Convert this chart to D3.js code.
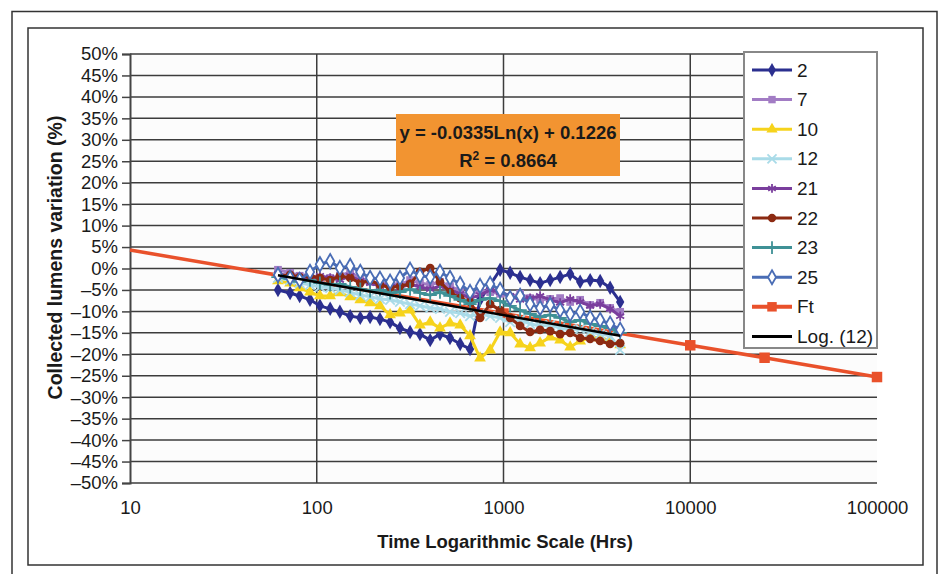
<!DOCTYPE html>
<html>
<head>
<meta charset="utf-8">
<script src="https://cdn.jsdelivr.net/npm/d3@7"></script>
<style>
  body { margin: 0; background: #fff; }
  text { font-family: "Liberation Sans", Arial, sans-serif; fill: #1a1a1a; }
</style>
</head>
<body>
<svg id="chart"></svg>
<script>
// measurement times (hours), shared by all samples
const hours = [62, 72, 81, 92, 104, 118, 133, 151, 171, 193, 218, 247, 279, 316, 357, 405, 457, 517, 586, 662,
  749, 848, 959, 1085, 1227, 1388, 1570, 1778, 2010, 2275, 2573, 2911, 3292, 3724, 4214];

// lumen variation (%) per sample
const s2 = [-5.0, -5.7, -6.4, -7.3, -8.7, -9.4, -10.1, -11.1, -11.5, -11.3, -11.8, -12.5, -13.9, -14.8, -15.3, -16.7, -15.3, -16.2, -17.6, -18.8,
  -7.3, -3.8, -0.3, -1.0, -2.0, -2.7, -3.4, -2.7, -2.0, -1.3, -3.1, -2.7, -2.9, -4.5, -7.8];
const s7 = [-0.3, -1.0, -1.7, -1.3, -2.7, -2.2, -1.7, -0.8, -2.2, -3.1, -3.6, -3.4, -3.8, -2.7, -3.4, -3.8, -3.1, -4.1, -5.2, -6.4,
  -5.0, -5.5, -5.9, -6.6, -5.9, -6.9, -7.3, -7.1, -6.9, -7.8, -7.3, -8.5, -8.0, -9.2, -10.1];
const s10 = [-2.9, -3.4, -4.5, -5.5, -6.4, -6.4, -5.7, -6.6, -7.3, -8.0, -8.7, -10.8, -10.4, -9.7, -13.2, -12.5, -13.9, -12.7, -13.2, -15.7,
  -20.9, -19.0, -14.8, -15.0, -17.6, -18.5, -17.4, -16.0, -16.7, -18.3, -16.9, -16.0, -16.2, -16.7, -17.8];
const s12 = [-2.2, -2.7, -3.4, -3.8, -4.3, -4.5, -5.0, -5.5, -6.2, -6.6, -7.1, -7.3, -7.8, -8.3, -8.7, -9.2, -9.4, -10.1, -10.4, -11.1,
  -10.6, -11.1, -11.5, -12.5, -12.0, -12.9, -13.4, -13.2, -13.9, -14.3, -14.1, -14.8, -15.3, -15.7, -19.0];
const s21 = [-1.3, -1.7, -2.2, -2.4, -1.7, -2.2, -2.7, -1.7, -2.9, -3.4, -4.1, -3.6, -4.5, -3.6, -4.3, -4.8, -4.1, -5.0, -5.9, -6.9,
  -6.2, -5.0, -5.5, -6.4, -7.3, -6.9, -6.4, -7.3, -8.0, -7.1, -7.8, -8.7, -8.3, -9.4, -11.1];
const s22 = [-1.7, -1.5, -2.0, -1.7, -2.2, -2.7, -1.7, -2.2, -3.4, -2.7, -3.8, -4.5, -4.1, -3.6, -0.8, 0.1, -3.1, -5.5, -6.9, -7.8,
  -11.5, -8.3, -9.7, -11.5, -13.4, -14.8, -14.3, -14.6, -15.3, -15.0, -16.2, -16.4, -16.9, -17.6, -17.4];
const s23 = [-2.0, -2.4, -3.1, -2.7, -3.4, -3.8, -3.6, -4.3, -4.8, -5.2, -5.0, -5.7, -5.5, -4.8, -5.7, -6.2, -5.5, -6.4, -7.3, -8.3,
  -7.3, -6.9, -7.6, -8.7, -9.7, -10.6, -11.3, -10.8, -11.5, -12.5, -12.0, -12.9, -13.4, -13.9, -15.0];
const s25 = [-1.5, -2.2, -2.7, -0.8, 1.0, 1.7, 0.1, 0.6, -0.8, -2.2, -2.4, -3.1, -2.2, -0.3, -1.7, -2.0, -0.8, -2.2, -3.6, -5.5,
  -4.1, -3.6, -5.0, -6.9, -6.4, -8.3, -9.2, -8.5, -9.7, -10.6, -10.1, -11.5, -12.0, -12.9, -14.3];

// forecast line
const ftHours = [10, 1000, 10000, 25000, 100000];
const ftValues = [4.3, -10.5, -17.9, -20.8, -25.3];

// logarithmic trendline of sample 12
const fitA = -0.0335, fitB = 0.1226;
const fitHours = [62, 4214];

const yTicks = d3.range(-50, 51, 5);
const xTicks = [10, 100, 1000, 10000, 100000];

const series = [
  {name: "2",  values: s2,  color: "#2b2f8f", sym: d3.symbolDiamond, fill: true},
  {name: "7",  values: s7,  color: "#a27cc4", sym: d3.symbolSquare, fill: true},
  {name: "10", values: s10, color: "#f6d31c", sym: d3.symbolTriangle, fill: true},
  {name: "12", values: s12, color: "#a9dbe8", sym: d3.symbolX, fill: false},
  {name: "21", values: s21, color: "#7a3e9d", sym: d3.symbolAsterisk, fill: false},
  {name: "22", values: s22, color: "#8c2a12", sym: d3.symbolCircle, fill: true},
  {name: "23", values: s23, color: "#3f9196", sym: d3.symbolPlus, fill: false},
  {name: "25", values: s25, color: "#4a6db5", sym: d3.symbolDiamond, fill: "open"}
];

const W = 943, H = 574;
const svg = d3.select("#chart").attr("width", W).attr("height", H);

// frames
svg.append("path")
  .attr("d", "M12,574 V11.5 H937 V574")
  .attr("fill", "none").attr("stroke", "#333").attr("stroke-width", 1.5);
svg.append("rect")
  .attr("x", 28).attr("y", 28).attr("width", 895).attr("height", 537)
  .attr("fill", "none").attr("stroke", "#333").attr("stroke-width", 1.5);

const x = d3.scaleLog().domain([10, 100000]).range([130, 877]);
const y = d3.scaleLinear().domain([-50, 50]).range([483, 54]);

const plot = svg.append("g");

plot.append("rect")
  .attr("x", x.range()[0]).attr("y", y(50))
  .attr("width", x.range()[1] - x.range()[0]).attr("height", y(-50) - y(50))
  .attr("fill", "#fcfcfc");

// horizontal gridlines
plot.append("g").selectAll("line")
  .data(yTicks)
  .join("line")
  .attr("x1", x(10)).attr("x2", x(100000))
  .attr("y1", d => y(d)).attr("y2", d => y(d))
  .attr("stroke", "#3c3c3c").attr("stroke-width", 1.5);

// vertical gridlines
plot.append("g").selectAll("line")
  .data(xTicks.slice(1, -1))
  .join("line")
  .attr("x1", d => x(d)).attr("x2", d => x(d))
  .attr("y1", y(50)).attr("y2", y(-50))
  .attr("stroke", "#3c3c3c").attr("stroke-width", 1.5);

// y axis
const yAxis = d3.axisLeft(y)
  .tickValues(yTicks)
  .tickSize(8)
  .tickPadding(4)
  .tickFormat(d => (d < 0 ? "\u2013" : "") + Math.abs(d) + "%");
const yAxisG = plot.append("g")
  .attr("transform", `translate(${x(10)},0)`)
  .call(yAxis);
yAxisG.select(".domain").attr("stroke", "#444").attr("stroke-width", 2);
yAxisG.selectAll(".tick line").attr("stroke", "#444").attr("stroke-width", 1.5);
yAxisG.selectAll(".tick text").style("font-size", "18.5px").attr("fill", "#1a1a1a");

// x axis
const xAxis = d3.axisBottom(x)
  .tickValues(xTicks)
  .tickSize(0)
  .tickPadding(18)
  .tickFormat(d3.format("d"));
const xAxisG = plot.append("g")
  .attr("transform", `translate(0,${y(-50)})`)
  .call(xAxis);
xAxisG.select(".domain").remove();
xAxisG.selectAll(".tick text").style("font-size", "18.5px").attr("fill", "#1a1a1a");

// axis titles
svg.append("text")
  .attr("x", 505).attr("y", 548)
  .attr("text-anchor", "middle")
  .style("font-size", "18.5px").style("font-weight", "bold")
  .text("Time Logarithmic Scale (Hrs)");
svg.append("text")
  .attr("transform", `translate(62,${y(0) - 11}) rotate(-90)`)
  .attr("text-anchor", "middle")
  .style("font-size", "19.5px").style("font-weight", "bold")
  .text("Collected lumens variation (%)");

const line = d3.line().x(d => x(d[0])).y(d => y(d[1]));

function marker(g, s, size) {
  const open = s.fill === "open";
  return g.attr("d", d3.symbol().type(s.sym).size(size))
    .attr("fill", s.fill === true ? s.color : (open ? "#fff" : "none"))
    .attr("stroke", s.color)
    .attr("stroke-width", s.fill === true ? 0 : 1.8);
}

// forecast
const ftPts = ftHours.map((h, i) => [h, ftValues[i]]);
const ft = {color: "#e9512b", sym: d3.symbolSquare, fill: true};
plot.append("path")
  .datum(ftPts)
  .attr("d", line)
  .attr("fill", "none").attr("stroke", ft.color).attr("stroke-width", 3.5);
plot.append("g").selectAll("path")
  .data(ftPts.filter(d => d[0] > 10))
  .join("path")
  .attr("transform", d => `translate(${x(d[0])},${y(d[1])})`)
  .call(g => marker(g, ft, 110));

// samples
series.forEach(s => {
  const pts = hours.map((h, i) => [h, s.values[i]]);
  const g = plot.append("g");
  g.append("path")
    .datum(pts)
    .attr("d", line)
    .attr("fill", "none").attr("stroke", s.color).attr("stroke-width", 3)
    .attr("stroke-linejoin", "round");
  g.selectAll("path.m")
    .data(pts)
    .join("path")
    .attr("class", "m")
    .attr("transform", d => `translate(${x(d[0])},${y(d[1])})`)
    .call(sel => marker(sel, s, 60));
});

// trendline
plot.append("path")
  .datum(fitHours.map(h => [h, (fitA * Math.log(h) + fitB) * 100]))
  .attr("d", line)
  .attr("fill", "none").attr("stroke", "#000").attr("stroke-width", 2.5);

// equation box
const eq = svg.append("g");
eq.append("rect")
  .attr("x", 396).attr("y", 114).attr("width", 224).attr("height", 62)
  .attr("fill", "#f29431");
eq.append("text")
  .attr("x", 508).attr("y", 139)
  .attr("text-anchor", "middle")
  .style("font-size", "18.5px").style("font-weight", "bold")
  .text("y = -0.0335Ln(x) + 0.1226");
const r2 = eq.append("text")
  .attr("x", 508).attr("y", 167)
  .attr("text-anchor", "middle")
  .style("font-size", "18.5px").style("font-weight", "bold");
r2.append("tspan").text("R");
r2.append("tspan").attr("dy", -7).style("font-size", "12px").text("2");
r2.append("tspan").attr("dy", 7).text(" = 0.8664");

// legend
const legendItems = series.concat([
  {name: "Ft", color: ft.color, sym: ft.sym, fill: true, w: 4},
  {name: "Log. (12)", color: "#000", sym: null}
]);
const legend = svg.append("g");
legend.append("rect")
  .attr("x", 744).attr("y", 52).attr("width", 133).attr("height", 296)
  .attr("fill", "#fff").attr("stroke", "#888").attr("stroke-width", 2);
const li = legend.selectAll("g.item")
  .data(legendItems)
  .join("g")
  .attr("class", "item")
  .attr("transform", (d, i) => `translate(0,${70 + i * 29.6})`);
li.append("line")
  .attr("x1", 752).attr("x2", 792)
  .attr("stroke", d => d.color).attr("stroke-width", d => d.w || 3);
li.filter(d => d.sym)
  .append("path")
  .attr("transform", "translate(772,0)")
  .each(function(d) { marker(d3.select(this), d, d.name === "Ft" ? 90 : 55); });
li.append("text")
  .attr("x", 797).attr("y", 6.5)
  .style("font-size", "19px")
  .text(d => d.name);
</script>
</body>
</html>
